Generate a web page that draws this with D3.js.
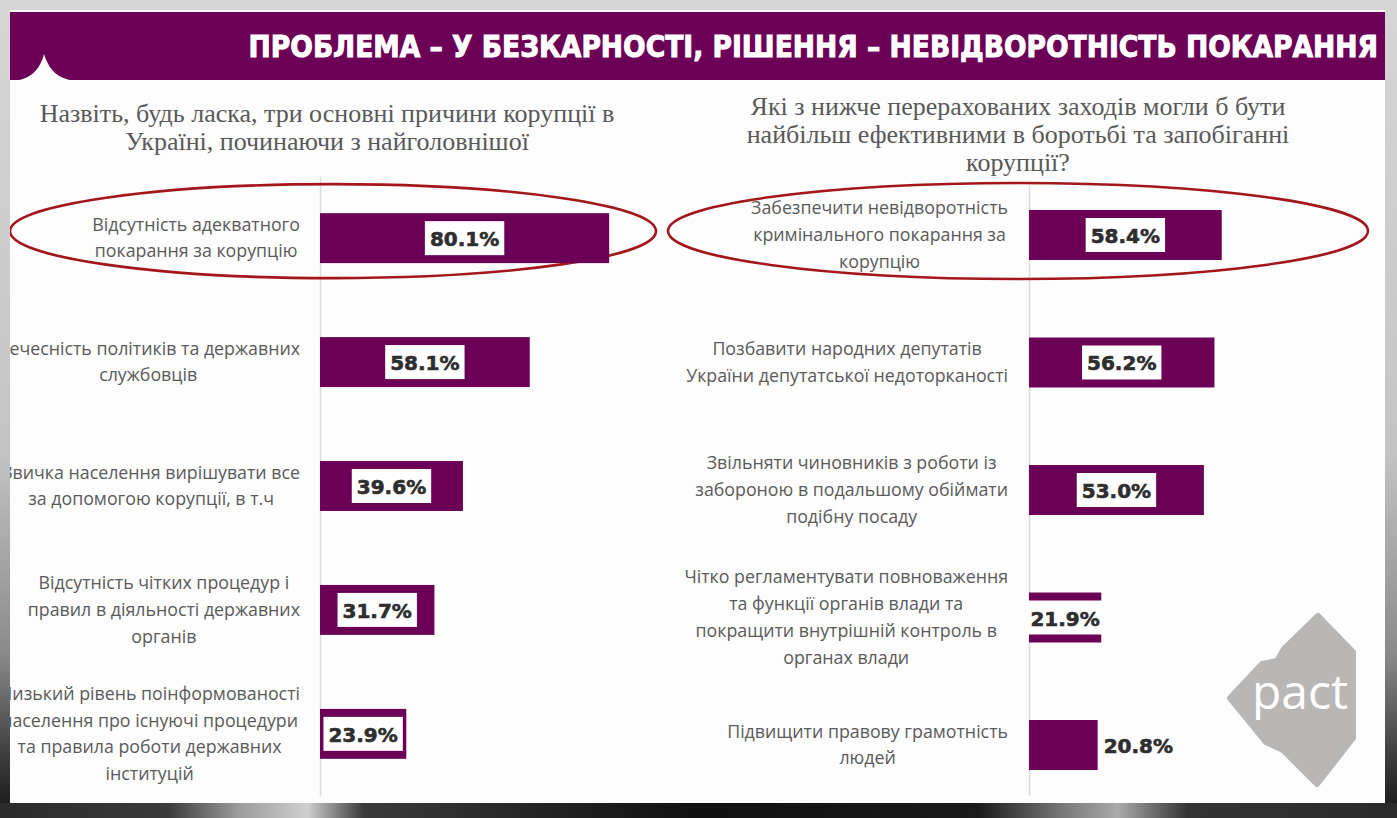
<!DOCTYPE html>
<html><head><meta charset="utf-8">
<script src="https://cdn.jsdelivr.net/npm/d3@7"></script>
<style>html,body{margin:0;padding:0;background:#222;overflow:hidden}</style>
</head><body><svg id="c" width="1397" height="818"></svg>
<script>
const title = "ПРОБЛЕМА – У БЕЗКАРНОСТІ, РІШЕННЯ – НЕВІДВОРОТНІСТЬ ПОКАРАННЯ";
const leftQuestion = ["Назвіть, будь ласка, три основні причини корупції в", "Україні, починаючи з найголовнішої"];
const rightQuestion = ["Які з нижче перерахованих заходів могли б бути", "найбільш ефективними в боротьбі та запобіганні", "корупції?"];
const leftCategories = [
  ["Відсутність адекватного", "покарання за корупцію"],
  ["Нечесність політиків та державних", "службовців"],
  ["Звичка населення вирішувати все", "за допомогою корупції, в т.ч"],
  ["Відсутність чітких процедур і", "правил в діяльності державних", "органів"],
  ["Низький рівень поінформованості", "населення про існуючі процедури", "та правила роботи державних", "інституцій"]
];
const leftValues = [80.1, 58.1, 39.6, 31.7, 23.9];
const rightCategories = [
  ["Забезпечити невідворотність", "кримінального покарання за", "корупцію"],
  ["Позбавити народних депутатів", "України депутатської недоторканості"],
  ["Звільняти чиновників з роботи із", "забороною в подальшому обіймати", "подібну посаду"],
  ["Чітко регламентувати повноваження", "та функції органів влади та", "покращити внутрішній контроль в", "органах влади"],
  ["Підвищити правову грамотність", "людей"]
];
const rightValues = [58.4, 56.2, 53.0, 21.9, 20.8];
const logoText = "pact";

const W = 1397, H = 818;
const PURPLE = "#6c0056";
const svg = d3.select("#c");
const defs = svg.append("defs");

// photo-frame background
const g1 = defs.append("linearGradient").attr("id", "bgv").attr("x1", 0).attr("x2", 0).attr("y1", 0).attr("y2", 1);
[[0, "#d6d6d6"], [0.55, "#c4c4c4"], [0.8, "#8a8a8a"], [0.93, "#3a3a3a"], [1, "#141414"]]
  .forEach(([o, c]) => g1.append("stop").attr("offset", o).attr("stop-color", c));
const g2 = defs.append("linearGradient").attr("id", "bgb").attr("x1", 0).attr("x2", 1).attr("y1", 0).attr("y2", 0);
[[0, "#2a2a2a"], [0.12, "#3a3a3a"], [0.17, "#9a9a9a"], [0.22, "#cfcfcf"], [0.26, "#3a3a3a"], [0.5, "#101010"],
 [0.7, "#1a1a1a"], [0.76, "#777"], [0.8, "#aaa"], [0.85, "#333"], [1, "#2a2a2a"]]
  .forEach(([o, c]) => g2.append("stop").attr("offset", o).attr("stop-color", c));
svg.append("rect").attr("width", W).attr("height", H).attr("fill", "url(#bgv)");
svg.append("rect").attr("x", 0).attr("y", 803).attr("width", W).attr("height", 15).attr("fill", "url(#bgb)");

// slide
const SX = 10, SY = 10, SW = 1375, SH = 793;
defs.append("clipPath").attr("id", "slideClip").append("rect").attr("x", SX).attr("y", SY).attr("width", SW).attr("height", SH);
const slide = svg.append("g").attr("clip-path", "url(#slideClip)");
slide.append("rect").attr("x", SX).attr("y", SY).attr("width", SW).attr("height", SH).attr("fill", "#fdfdfd");

// banner
slide.append("rect").attr("x", SX).attr("y", 12).attr("width", SW).attr("height", 68).attr("fill", PURPLE);
slide.append("path").attr("d", "M12,81 C30,80 40,70 44,54 C49,70 58,80 78,81 Z").attr("fill", "#fdfdfd");
const tt = slide.append("text").attr("x", 1378).attr("y", 57).attr("text-anchor", "end")
  .attr("font-family", "'Liberation Sans Narrow','DejaVu Sans Condensed','Liberation Sans',sans-serif")
  .attr("font-weight", "bold").attr("font-size", 31).attr("fill", "#fff")
  .attr("stroke", "#fff").attr("stroke-width", 0.9)
  .text(title);
{
  const w0 = tt.node().getComputedTextLength();
  const fs = Math.min(34, 31 * 1130 / w0);
  tt.attr("font-size", fs);
}

// questions
function question(lines, cx, y0) {
  slide.append("g").selectAll("text").data(lines).join("text")
    .attr("x", cx).attr("y", (d, i) => y0 + i * 28).attr("text-anchor", "middle")
    .attr("font-family", "'Liberation Serif','DejaVu Serif',serif").attr("font-size", 26)
    .attr("fill", "#595959").text(d => d);
}
question(leftQuestion, 327, 122);
question(rightQuestion, 1018, 115);

function panel(cats, vals, opt) {
  const keys = cats.map((c, i) => "c" + i);
  const y = d3.scaleBand().domain(keys).range(opt.yRange)
    .paddingInner(opt.pIn).paddingOuter(opt.pOut);
  const x = d3.scaleLinear().domain([0, 100]).range([opt.x0, opt.x0 + opt.pxPer100]);
  const g = slide.append("g");

  // axis line
  const ax = g.append("g").attr("transform", `translate(${opt.x0},0)`)
    .call(d3.axisLeft(y).tickSize(0).tickFormat(""));
  ax.select(".domain").attr("stroke", "#dcdcdc").attr("stroke-width", 1.5);

  // highlight ellipse around first item
  const c0 = y(keys[0]) + y.bandwidth() / 2;
  g.append("ellipse").attr("cx", opt.ell.cx).attr("cy", c0 + opt.ell.dy)
    .attr("rx", opt.ell.rx).attr("ry", opt.ell.ry)
    .attr("fill", "none").attr("stroke", "#a3161b").attr("stroke-width", 2.6);

  // bars
  g.selectAll("rect.bar").data(vals).join("rect").attr("class", "bar")
    .attr("x", x(0)).attr("y", (d, i) => y(keys[i]))
    .attr("width", d => x(d) - x(0)).attr("height", y.bandwidth())
    .attr("fill", PURPLE);

  // category labels (lines centered, block right-aligned)
  cats.forEach((lines, i) => {
    const cy = y(keys[i]) + y.bandwidth() / 2;
    const lg = g.append("g");
    const ts = lg.selectAll("text").data(lines).join("text")
      .attr("font-family", "'Open Sans','Noto Sans',sans-serif").attr("font-size", 17.8)
      .attr("fill", "#5a5a5a").attr("text-anchor", "middle")
      .attr("y", (d, j) => cy + (j - (lines.length - 1) / 2) * 26.7 + 6)
      .text(d => d);
    let maxW = 0;
    ts.each(function () { maxW = Math.max(maxW, this.getComputedTextLength()); });
    ts.attr("x", opt.x0 - opt.labelGap - maxW / 2);
  });

  // value labels
  vals.forEach((v, i) => {
    const cy = y(keys[i]) + y.bandwidth() / 2;
    const bw = x(v) - x(0);
    const inside = bw >= 70;
    const tx = inside ? x(0) + bw / 2 : x(v) + 6;
    const lab = g.append("g");
    const box = lab.append("rect").attr("fill", "#fff");
    const t = lab.append("text").attr("x", tx).attr("y", cy + 8)
      .attr("text-anchor", inside ? "middle" : "start")
      .attr("font-family", "'DejaVu Sans','Liberation Sans',sans-serif").attr("font-weight", "bold")
      .attr("font-size", 20).attr("fill", "#2e2e2e").attr("stroke", "#2e2e2e").attr("stroke-width", 0.6)
      .text(d3.format(".1f")(v) + "%");
    const tw = t.node().getComputedTextLength();
    if (inside) {
      box.attr("x", tx - tw / 2 - 5).attr("y", cy - 17).attr("width", tw + 10).attr("height", 34);
    } else box.remove();
  });
}

panel(leftCategories, leftValues, {
  x0: 320, pxPer100: 361, yRange: [176, 796], pIn: 0.597, pOut: 0.3, labelGap: 20,
  ell: { cx: 333, dy: -7, rx: 323, ry: 47 }
});
panel(rightCategories, rightValues, {
  x0: 1029, pxPer100: 330, yRange: [184.5, 795.5], pIn: 0.608, pOut: 0.2, labelGap: 21,
  ell: { cx: 1018, dy: -4, rx: 350, ry: 48 }
});

// logo
const logo = slide.append("g");
logo.append("path")
  .attr("d", "M1318,616 L1353,652 L1353,738 L1317,784 L1283,750 L1266,742 L1230,698 L1262,664 L1277,661 L1284,649 Z")
  .attr("fill", "#b8b7b6").attr("stroke", "#b8b7b6").attr("stroke-width", 6).attr("stroke-linejoin", "round");
logo.append("text").attr("x", 1300).attr("y", 709).attr("text-anchor", "middle")
  .attr("font-family", "'Open Sans','Noto Sans',sans-serif").attr("font-size", 48).attr("fill", "#fff")
  .text(logoText);
</script>
</body></html>
